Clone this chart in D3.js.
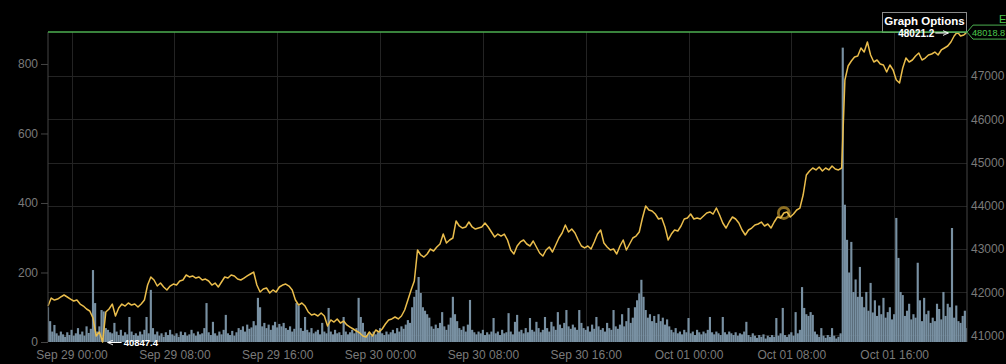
<!DOCTYPE html>
<html><head><meta charset="utf-8">
<script src="https://cdn.jsdelivr.net/npm/d3@7"></script>
<style>html,body{margin:0;padding:0;background:#000;overflow:hidden}svg{display:block}</style>
</head><body><svg id="c" width="1006" height="364"></svg>
<script>
// ---- data ----
const priceStart = "2021-09-28T22:10";
const priceStepMin = 15;
const prices = [
41680,41865,41819,41842,41889,41935,41889,41842,41796,41819,
41726,41680,41611,41565,41403,40986,41079,40847.4,41542,41611,
41726,41449,41634,41726,41680,41750,41703,41726,41657,41726,
41819,42166,42352,42282,42143,42212,42120,42051,42143,42189,
42166,42259,42282,42398,42352,42375,42328,42352,42282,42305,
42259,42166,42212,42120,42236,42352,42328,42398,42375,42305,
42282,42328,42375,42421,42467,42166,42004,42074,42097,41981,
42051,42004,42120,42166,42189,42143,42051,41819,41703,41750,
41680,41542,41472,41495,41449,41518,41449,41218,41357,41310,
41380,41287,41333,41241,41194,41148,41102,41056,40986,40963,
41079,40986,41125,41079,41148,41264,41357,41380,41426,41380,
41449,41588,41819,42051,42259,42976,42861,42814,42884,42999,
42953,43046,43115,43346,43138,43208,43254,43648,43532,43485,
43509,43624,43509,43462,43485,43509,43601,43509,43393,43277,
43346,43300,43346,43208,42976,42884,43069,43162,43208,43115,
43069,43185,43046,42907,42837,42976,43046,42930,43092,43254,
43370,43555,43393,43462,43370,43208,43069,43023,43069,42999,
43162,43346,43439,43138,43046,42976,42999,42884,43069,43208,
42976,43115,43254,43300,43393,43717,43995,43902,43879,43809,
43694,43717,43509,43208,43346,43439,43416,43532,43694,43717,
43809,43694,43717,43694,43763,43833,43856,43809,43948,43786,
43601,43485,43624,43740,43694,43601,43439,43324,43439,43485,
43555,43578,43624,43532,43578,43485,43624,43740,43717,43833,
43856,43740,43809,43902,43948,44249,44712,44804,44874,44828,
44897,44804,44874,44828,44920,44851,44828,44874,46910,47234,
47350,47443,47466,47651,47558,47790,47489,47327,47373,47281,
47257,47095,47257,47142,46910,46841,47188,47419,47327,47373,
47466,47535,47373,47419,47489,47512,47558,47489,47605,47651,
47697,47790,47929,48021.2,47929,47952,48018.8
];
const volStart = "2021-09-28T22:10";
const volStepMin = 10;
const volumes = [
100,60,30,49,25,18,30,22,15,28,
20,35,18,25,40,22,30,18,45,26,
38,207,112,30,45,92,88,40,35,28,
25,55,30,20,35,18,28,22,72,30,
20,25,18,30,22,35,72,25,150,40,
22,30,18,25,15,28,20,35,22,18,
25,15,30,20,28,18,22,35,25,18,
30,22,25,40,112,28,20,58,25,18,
30,22,35,78,25,20,32,18,28,40,
35,45,30,50,38,42,60,48,127,100,
45,55,40,50,35,48,58,42,52,45,
55,40,35,45,30,38,112,105,40,32,
72,35,28,40,25,30,35,22,55,30,
25,98,30,22,35,25,28,20,72,30,
22,28,35,25,40,127,72,55,30,20,
25,18,30,22,28,40,25,20,30,22,
28,35,25,40,30,45,38,50,63,55,
100,130,150,187,141,100,90,80,70,45,
38,50,40,55,86,45,35,50,70,130,
80,60,40,35,45,30,50,121,35,28,
22,30,25,35,20,28,22,30,69,25,
30,20,35,25,28,83,30,22,58,78,
30,35,25,40,28,69,35,30,58,40,
28,35,72,40,30,58,45,35,86,50,
40,55,92,45,38,50,42,35,92,55,
40,35,45,30,50,38,72,45,35,40,
30,55,40,35,92,45,38,50,80,45,
60,98,55,70,100,120,140,179,130,92,
70,80,60,75,55,80,60,70,50,65,
45,35,28,40,25,30,22,35,28,69,
25,30,20,35,28,22,30,25,35,72,
28,22,30,25,20,72,28,22,30,25,
20,28,18,25,22,30,58,20,15,25,
18,12,20,15,22,10,18,14,20,15,
69,18,25,98,20,15,22,28,18,86,
25,35,158,98,80,75,86,78,30,22,
15,40,18,12,20,15,40,18,10,15,
25,847,395,294,200,288,144,180,130,216,
130,100,144,90,170,85,120,75,105,80,
127,70,86,100,65,80,357,242,144,135,
75,90,110,65,80,70,228,120,60,127,
80,90,55,70,60,110,95,65,144,75,
110,100,328,70,105,60,55,75,90,40
];
const volTicks = [0,200,400,600,800];
const volMax = 892;
const priceTicks = [41000,42000,43000,44000,45000,46000,47000];
const timeTickLabels = ["2021-09-29T00:00","2021-09-29T08:00","2021-09-29T16:00","2021-09-30T00:00","2021-09-30T08:00","2021-09-30T16:00","2021-10-01T00:00","2021-10-01T08:00","2021-10-01T16:00"];
const markerIndex = 229;
const buttonLabel = "Graph Options";
const cornerLabel = "E";

// ---- chart ----
const parse = d3.timeParse("%Y-%m-%dT%H:%M");
const p0 = parse(priceStart), v0 = parse(volStart);
const priceData = prices.map((p,i)=>({t:d3.timeMinute.offset(p0,i*priceStepMin), p}));
const volData = volumes.map((v,i)=>({t:d3.timeMinute.offset(v0,i*volStepMin), v}));
const timeTicks = timeTickLabels.map(parse);

const L=48, R=967, T=32, B=342;
const svg = d3.select("#c");
svg.append("rect").attr("width",1006).attr("height",364).attr("fill","#000");

const x = d3.scaleTime().domain(d3.extent(priceData,d=>d.t)).range([L,R]);
const yP = d3.scaleLinear().domain(d3.extent(prices)).range([B,T]);
const yV = d3.scaleLinear().domain([0,volMax]).range([B,T]);

const defs = svg.append("defs");
defs.append("clipPath").attr("id","clip")
  .append("rect").attr("x",L).attr("y",T-2).attr("width",R-L).attr("height",B-T+3);

// grid
const g = svg.append("g");
g.selectAll(".vg").data(timeTicks).join("line")
  .attr("x1",d=>Math.round(x(d))+0.5).attr("x2",d=>Math.round(x(d))+0.5).attr("y1",T).attr("y2",B)
  .attr("stroke","#232323").attr("stroke-width",1);
g.selectAll(".hg").data(priceTicks).join("line")
  .attr("x1",L).attr("x2",R).attr("y1",d=>Math.round(yP(d))+0.5).attr("y2",d=>Math.round(yP(d))+0.5)
  .attr("stroke","#232323").attr("stroke-width",1);

// volume bars
const vStepPx = x(volData[1].t)-x(volData[0].t);
svg.append("g").attr("clip-path","url(#clip)")
  .selectAll("rect").data(volData).join("rect")
  .attr("x",d=>x(d.t)-vStepPx*0.5).attr("width",vStepPx*1.0)
  .attr("y",d=>yV(d.v)).attr("height",d=>yV(0)-yV(d.v))
  .attr("fill","#7890a2");

// marker ring
const mk = priceData[markerIndex];
svg.append("circle").attr("cx",x(mk.t)).attr("cy",yP(mk.p)).attr("r",5.5)
  .attr("fill","none").attr("stroke","#8c6e22").attr("stroke-width",2.8);

// price line
svg.append("path").datum(priceData)
  .attr("d",d3.line().x(d=>x(d.t)).y(d=>yP(d.p)))
  .attr("fill","none").attr("stroke","#eabd4c").attr("stroke-width",1.5).attr("stroke-linejoin","round");

// axes
const axisColor="#7a7a7a";
const fontFam="'Liberation Sans', Arial, sans-serif";
const ax = svg.append("g").attr("transform",`translate(${L},0)`)
  .call(d3.axisLeft(yV).tickValues(volTicks).tickSize(7).tickPadding(3));
const axR = svg.append("g").attr("transform",`translate(${R},0)`)
  .call(d3.axisRight(yP).tickValues(priceTicks).tickFormat(d3.format("d")).tickSize(0).tickPadding(4));
const axB = svg.append("g").attr("transform",`translate(0,${B})`)
  .call(d3.axisBottom(x).tickValues(timeTicks).tickFormat(d3.timeFormat("%b %d %H:%M")).tickSize(0).tickPadding(8));
[ax,axR,axB].forEach(a=>{
  a.selectAll("text").attr("fill",axisColor).style("font-family",fontFam).style("font-size","12px");
  a.selectAll("line").attr("stroke","#444");
  a.select(".domain").attr("stroke","#444");
});
axB.select(".domain").remove();
ax.select(".domain").attr("d",`M0,${T}V${B}`);
axR.select(".domain").attr("d",`M0,${T}V${B}`);

// Graph Options button
svg.append("rect").attr("x",882.5).attr("y",12.5).attr("width",84).attr("height",20)
  .attr("fill","#000").attr("stroke","#8a8a8a").attr("stroke-width",1);

// last price line
const last = priceData[priceData.length-1];
const ly = yP(last.p);
svg.append("line").attr("x1",L).attr("x2",R).attr("y1",ly).attr("y2",ly)
  .attr("stroke","#4caf50").attr("stroke-width",1.5);
svg.append("text").attr("x",924.5).attr("y",25).attr("text-anchor","middle")
  .attr("fill","#fff").style("font-family",fontFam).style("font-size","11.5px").style("font-weight","bold")
  .text(buttonLabel);

// last price tag
svg.append("path").attr("d",`M${R},${ly}L${R+6},${ly-7}H1010V${ly+7}H${R+6}Z`)
  .attr("fill","#000").attr("stroke","#4caf50").attr("stroke-width",1);
svg.append("text").attr("x",R+5).attr("y",ly+3.5).attr("fill","#4cc94c")
  .style("font-family",fontFam).style("font-size","9.2px").text(d3.format(".1f")(last.p));
svg.append("text").attr("x",999).attr("y",23).attr("fill","#4cc94c")
  .style("font-family",fontFam).style("font-size","11px").text(cornerLabel);

// min / max annotations
const minI = d3.minIndex(prices), maxI = d3.maxIndex(prices);
const mn = priceData[minI], mx = priceData[maxI];
defs.append("marker").attr("id","ah").attr("viewBox","0 0 10 10").attr("refX",9).attr("refY",5)
  .attr("markerWidth",6).attr("markerHeight",6).attr("orient","auto-start-reverse")
  .append("path").attr("d","M0,1L9,5L0,9").attr("fill","none").attr("stroke","#fff").attr("stroke-width",1.5);
const mnx = x(mn.t), mny = yP(mn.p);
svg.append("line").attr("x1",mnx+19).attr("x2",mnx+5).attr("y1",mny+0.5).attr("y2",mny+0.5)
  .attr("stroke","#fff").attr("stroke-width",1).attr("marker-end","url(#ah)");
svg.append("text").attr("x",mnx+21).attr("y",mny+3.5).attr("fill","#fff")
  .style("font-family",fontFam).style("font-size","9.5px").style("font-weight","bold")
  .text(d3.format(".1f")(mn.p));
const mxx = x(mx.t), mxy = yP(mx.p);
svg.append("line").attr("x1",mxx-22).attr("x2",mxx-9).attr("y1",mxy+1).attr("y2",mxy+1)
  .attr("stroke","#fff").attr("stroke-width",1).attr("marker-end","url(#ah)");
svg.append("text").attr("x",mxx-23).attr("y",mxy+4.5).attr("text-anchor","end").attr("fill","#fff")
  .style("font-family",fontFam).style("font-size","10px").style("font-weight","bold")
  .text(d3.format(".1f")(mx.p));
</script>
</body></html>
